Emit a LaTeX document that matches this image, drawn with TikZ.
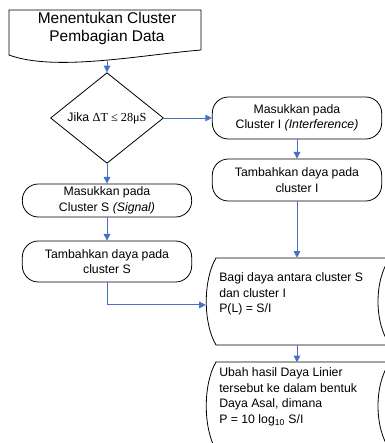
\documentclass[tikz,border=0pt]{standalone}
\usepackage{fontspec}
\setmainfont{Liberation Sans}
\newfontfamily\hurufserif{Liberation Serif}
\usetikzlibrary{shapes.geometric,arrows.meta}
\definecolor{garisbiru}{RGB}{68,114,196}

\begin{document}
\begin{tikzpicture}[x=0.75pt,y=0.75pt,yscale=-1,xscale=1,
  garis/.style={draw=black,line width=0.6pt},
  proses/.style={garis,rounded corners=12pt,minimum width=127pt,align=center,inner sep=0.75pt,font=\fontsize{9.2}{11.7}\selectfont},
  teks/.style={anchor=west,align=left,inner sep=0pt,font=\fontsize{9.2}{11.7}\selectfont},
  bingkai/.style={minimum width=136.5pt,minimum height=65.25pt,inner sep=0pt},
  alur/.style={draw=garisbiru,line width=0.75pt,-{Triangle[length=5pt,width=5pt]}}]
      \useasboundingbox (0,0) rectangle (385,443);
      \clip (0,0) rectangle (385,443);
      % dokumen awal
      \draw [garis] (201,50) -- (201,10) -- (9,10) -- (9,55) .. controls (55,72) and (140,55) .. (201,50) ;
      \node (judul) at (107,28.5) [align=center,inner sep=0pt,font=\fontsize{11.6}{12.8}\selectfont] {Menentukan Cluster\\Pembagian Data};
      \coordinate (ujung) at (107,60.5);
      \node (syarat) at (107,118) [diamond,garis,minimum width=84.75pt,minimum height=61.5pt,inner sep=0pt,font=\fontsize{9.2}{11}\selectfont] {Jika {\hurufserif ΔT ≤ 28μS}};
      \node (masukI) at (297,118) [proses,minimum height=31.5pt] {Masukkan pada\\Cluster I \textit{(Interference)}};
      \node (tambahI) at (297,180) [proses,minimum height=31.5pt] {Tambahkan daya pada\\cluster I};
      \node (masukS) at (107,200.5) [proses,minimum height=24.75pt] {Masukkan pada\\Cluster S \textit{(Signal)}};
      \node (tambahS) at (107,261.5) [proses,minimum height=30.75pt] {Tambahkan daya pada\\cluster S};
      % stored data
      \draw [garis] (390,258) -- (216,258) .. controls (203,280) and (203,323) .. (216,345) -- (390,345) .. controls (374,323) and (374,280) .. (390,258) ;
      \node (bagi) at (297,301.5) [bingkai] {};
      \node (teksbagi) at (219,294) [teks] {Bagi daya antara cluster S\\dan cluster I\\P(L) = S/I};
      \draw [garis] (390,362) -- (216,362) .. controls (203,384) and (203,428) .. (216,450) -- (390,450) .. controls (374,428) and (374,384) .. (390,362) ;
      \node (ubah) at (297,406) [bingkai] {};
      \node (teksubah) at (219,397) [teks] {Ubah hasil Daya Linier\\tersebut ke dalam bentuk\\Daya Asal, dimana\\P = 10 log\textsubscript{10} S/I};
      % panah
      \draw [alur] (ujung) -- (syarat);
      \draw [alur] (syarat) -- (masukI);
      \draw [alur] (syarat) -- (masukS);
      \draw [alur] (masukI) -- (tambahI);
      \draw [alur] (masukS) -- (tambahS);
      \draw [alur] (tambahI) -- (bagi);
      \draw [alur] (tambahS) |- ([yshift=2.6pt]bagi.west);
      \draw [alur] (bagi) -- (ubah);
  \end{tikzpicture}
\end{document}
